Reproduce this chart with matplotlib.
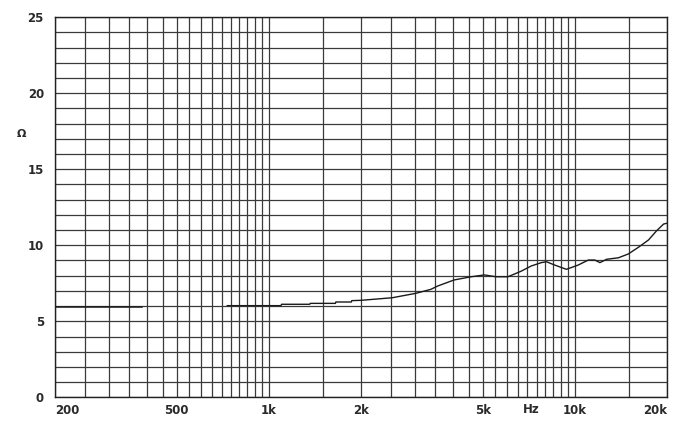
import numpy as np
import matplotlib
matplotlib.use("Agg")
import matplotlib.pyplot as plt
from matplotlib.ticker import FixedLocator, NullFormatter

# impedance curve (Hz, ohm)
freq_low = [200, 386]
imp_low = [5.92, 5.92]

freq_high = [731, 1095, 1100, 1360, 1365, 1650, 1655, 1860, 1865, 2000,
             2530, 3020, 3380, 3560, 4030, 4580, 5060, 5530, 6040, 6680,
             7200, 7770, 8070, 8590, 9380, 10250, 11060, 11620, 12070, 12700,
             13880, 14950, 16130, 17400, 18500, 19500, 20000]
imp_high = [6.03, 6.03, 6.12, 6.12, 6.18, 6.18, 6.27, 6.27, 6.36, 6.38,
            6.55, 6.84, 7.1, 7.32, 7.72, 7.93, 8.05, 7.93, 7.93, 8.3,
            8.64, 8.86, 8.92, 8.7, 8.42, 8.7, 9.03, 9.03, 8.86, 9.08,
            9.18, 9.43, 9.87, 10.35, 10.96, 11.4, 11.45]

x_ticks = [200, 500, 1000, 2000, 5000, 10000, 20000]
x_labels = ["200", "500", "1k", "2k", "5k", "10k", "20k"]
y_ticks = [0, 5, 10, 15, 20, 25]
grid_x = list(range(200, 1000, 50)) + list(range(1000, 10001, 500)) + [15000, 20000]
grid_y = list(range(0, 26))

fig = plt.figure(figsize=(6.87, 4.32), dpi=100)
ax = fig.add_axes([0.0801, 0.0803, 0.8908, 0.8797])

ax.set_xscale("log")
ax.set_xlim(200, 20000)
ax.set_ylim(0, 25)

for gx in grid_x:
    ax.axvline(gx, color="#3a3a3a", lw=0.9, zorder=1)
for gy in grid_y:
    ax.axhline(gy, color="#3a3a3a", lw=0.9, zorder=1)

ax.plot(freq_low, imp_low, color="#1a1a1a", lw=1.1, zorder=3)
ax.plot(freq_high, imp_high, color="#1a1a1a", lw=1.0, zorder=3)

ax.xaxis.set_major_locator(FixedLocator(x_ticks))
ax.xaxis.set_minor_locator(FixedLocator([]))
ax.xaxis.set_minor_formatter(NullFormatter())
ax.set_xticklabels(x_labels)
ax.set_yticks(y_ticks)
ax.tick_params(length=0, labelsize=8.5, colors="#2a2a2a", pad=5)
ax.tick_params(axis="y", pad=8)
for lab in ax.get_xticklabels() + ax.get_yticklabels():
    lab.set_fontweight("bold")
xl = ax.get_xticklabels()
xl[0].set_horizontalalignment("left")
xl[-1].set_horizontalalignment("right")

ax.text(7200, -0.35, "Hz", ha="center", va="top", fontsize=8.5,
        fontweight="bold", color="#2a2a2a")
ax.text(-0.055, 17.3, "Ω", transform=ax.get_yaxis_transform(), ha="center",
        va="center", fontsize=8, fontweight="bold", color="#2a2a2a")

for s in ax.spines.values():
    s.set_color("#222222")
    s.set_linewidth(1.0)

fig.savefig("out.png", dpi=100)
